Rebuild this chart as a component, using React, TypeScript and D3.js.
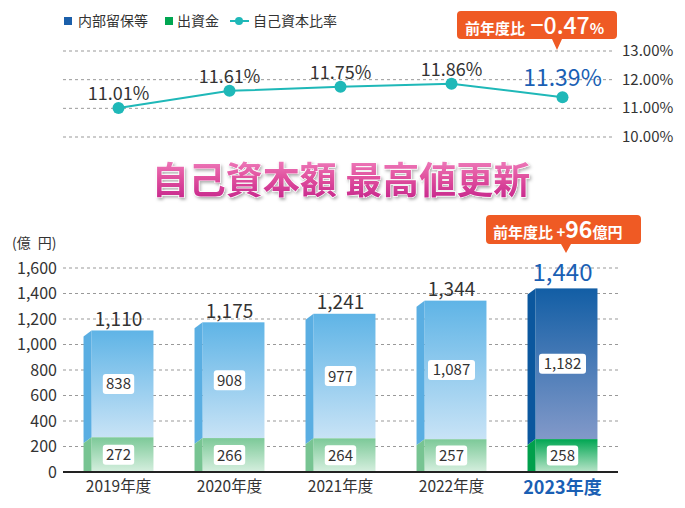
import React from "react";
import * as d3 from "d3";

const years = ["2019年度", "2020年度", "2021年度", "2022年度", "2023年度"];
const retained = [838, 908, 977, 1087, 1182];
const capital = [272, 266, 264, 257, 258];
const totals = [1110, 1175, 1241, 1344, 1440];
const ratio = [11.01, 11.61, 11.75, 11.86, 11.39];
const barTicks = [0, 200, 400, 600, 800, 1000, 1200, 1400, 1600];
const pctTicks = [10, 11, 12, 13];

const FONT = "'Noto Sans CJK JP', 'Noto Sans', sans-serif";
const TXT = "#333";
const BLUE = "#1a5fb4";
const ORANGE = "#ef5a24";
const TEAL = "#1fb8b8";

const fmt = d3.format(",");

export default function App() {
  const W = 685, H = 508;
  const x = d3.scaleBand<string>().domain(years).range([63, 618]).paddingInner(0.37).paddingOuter(0.185);
  const y = d3.scaleLinear().domain([0, 1600]).range([472, 268]);
  const yp = d3.scaleLinear().domain([10, 13]).range([137, 51]);
  const bw = x.bandwidth();
  const side = 8;
  const slant = 6;
  const cx = (i: number) => (x(years[i]) as number) + bw / 2;

  const line = d3.line<number>().x((_, i) => cx(i)).y((d) => yp(d));

  const labelBox = (text: string, xc: number, yc: number, key: string) => {
    const w = text.length * 7.8 + 8;
    return (
      <g key={key}>
        <rect x={xc - w / 2} y={yc - 10} width={w} height={20} rx={3} fill="#fff" />
        <text x={xc} y={yc + 5.5} textAnchor="middle" fontSize={15} fill={TXT} fontFamily={FONT}>{text}</text>
      </g>
    );
  };

  return (
    <svg width={W} height={H} style={{ position: "absolute", left: 0, top: 0 }} fontFamily={FONT}>
      <defs>
        <linearGradient id="gBlue" x1="0" y1="0" x2="0" y2="1">
          <stop offset="0" stopColor="#5fb4e6" />
          <stop offset="1" stopColor="#c8e3f6" />
        </linearGradient>
        <linearGradient id="gGreen" x1="0" y1="0" x2="0" y2="1">
          <stop offset="0" stopColor="#7cc998" />
          <stop offset="1" stopColor="#d6efdf" />
        </linearGradient>
        <linearGradient id="gDark" x1="0" y1="0" x2="0" y2="1">
          <stop offset="0" stopColor="#125ea5" />
          <stop offset="1" stopColor="#8299c9" />
        </linearGradient>
        <linearGradient id="gDarkGreen" x1="0" y1="0" x2="0" y2="1">
          <stop offset="0" stopColor="#00a652" />
          <stop offset="1" stopColor="#b8e4c8" />
        </linearGradient>
        <linearGradient id="gTitle" x1="0" y1="0" x2="0" y2="1">
          <stop offset="0" stopColor="#f590c8" />
          <stop offset="0.5" stopColor="#e0509e" />
          <stop offset="1" stopColor="#c01c88" />
        </linearGradient>
        <filter id="shadow" x="-10%" y="-30%" width="120%" height="160%">
          <feDropShadow dx="1.5" dy="2" stdDeviation="1.5" floodColor="#000" floodOpacity="0.3" />
        </filter>
      </defs>

      {/* Legend */}
      <rect x={64} y={17} width={8} height={8} fill="#1b5faa" />
      <text x={78} y={26} fontSize={14} fill={TXT}>内部留保等</text>
      <rect x={165} y={17} width={8} height={8} fill="#00a651" />
      <text x={177} y={26} fontSize={14} fill={TXT}>出資金</text>
      <line x1={230} x2={249} y1={21} y2={21} stroke={TEAL} strokeWidth={2} />
      <circle cx={239} cy={21} r={4} fill={TEAL} />
      <text x={253} y={26} fontSize={14} fill={TXT}>自己資本比率</text>

      {/* Line chart grid */}
      {pctTicks.map((t) => (
        <g key={"pg" + t}>
          <line x1={63} x2={613} y1={yp(t)} y2={yp(t)} stroke="#999" strokeDasharray="3,3" />
          <text x={622} y={yp(t) + 5} fontSize={15} fill={TXT}>{t.toFixed(2)}%</text>
        </g>
      ))}
      <path d={line(ratio) as string} fill="none" stroke={TEAL} strokeWidth={2} />
      {ratio.map((r, i) => (
        <g key={"pt" + i}>
          <circle cx={cx(i)} cy={yp(r)} r={6} fill={TEAL} />
          {i < 4 ? (
            <text x={cx(i)} y={yp(r) - 8} textAnchor="middle" fontSize={18} fill={TXT}>{r.toFixed(2)}%</text>
          ) : (
            <text x={cx(i)} y={yp(r) - 11} textAnchor="middle" fontSize={23} fill={BLUE}>{r.toFixed(2)}%</text>
          )}
        </g>
      ))}

      {/* Callout 1 */}
      <path d="M461,11 H613 Q617,11 617,15 V35 Q617,39 613,39 H562 L557,50 L552,39 H461 Q457,39 457,35 V15 Q457,11 461,11 Z" fill={ORANGE} />
      <text x={465} y={34} fill="#fff" fontWeight="bold">
        <tspan fontSize={15}>前年度比 </tspan>
        <tspan fontSize={23} dx={2} fontWeight="500">−0.47</tspan>
        <tspan fontSize={15}>%</tspan>
      </text>

      {/* Title */}
      <text x={341} y={194} textAnchor="middle" fontSize={37} fontWeight="bold" fill="url(#gTitle)" stroke="#fff" strokeWidth={1} paintOrder="stroke" filter="url(#shadow)">
        自己資本額 最高値更新
      </text>

      {/* Bar chart */}
      <text x={12} y={248} fontSize={14} fill={TXT}>{"(億\u2002円)"}</text>
      {barTicks.map((t) => (
        <g key={"bg" + t}>
          {t > 0 && <line x1={63} x2={618} y1={y(t)} y2={y(t)} stroke="#999" strokeDasharray="3,3" />}
          <text x={57} y={y(t) + 5.5} textAnchor="end" fontSize={16} fill={TXT}>{fmt(t)}</text>
        </g>
      ))}

      {years.map((yr, i) => {
        const x0 = x(yr) as number;
        const last = i === years.length - 1;
        const yTop = y(capital[i] + retained[i]);
        const yB = y(capital[i]);
        const y0 = y(0);
        const front = x0 + side;
        return (
          <g key={"bar" + i}>
            <rect x={front} y={yTop} width={bw - side} height={yB - yTop} fill={last ? "url(#gDark)" : "url(#gBlue)"} />
            <polygon points={`${x0},${yTop + slant} ${front},${yTop} ${front},${yB} ${x0},${yB + slant}`} fill={last ? "#0b579e" : "#5aaee2"} />
            <rect x={front} y={yB} width={bw - side} height={y0 - yB} fill={last ? "url(#gDarkGreen)" : "url(#gGreen)"} />
            <polygon points={`${x0},${yB + slant} ${front},${yB} ${front},${y0} ${x0},${y0}`} fill={last ? "#00a04c" : "#77c492"} />
            {labelBox(fmt(retained[i]), cx(i), y(capital[i] + retained[i] / 2), "lr" + i)}
            {labelBox(fmt(capital[i]), cx(i), y(capital[i] / 2), "lc" + i)}
            {last ? (
              <text x={cx(i)} y={yTop - 7} textAnchor="middle" fontSize={24} fill={BLUE}>{fmt(totals[i])}</text>
            ) : (
              <text x={cx(i)} y={yTop - 4.5} textAnchor="middle" fontSize={19} fill={TXT}>{fmt(totals[i])}</text>
            )}
            {last ? (
              <text x={cx(i)} y={494} textAnchor="middle" fontSize={18} fontWeight="bold" fill={BLUE}>{yr}</text>
            ) : (
              <text x={cx(i)} y={492} textAnchor="middle" fontSize={15.5} fill={TXT}>{yr}</text>
            )}
          </g>
        );
      })}
      <line x1={63} x2={618} y1={y(0)} y2={y(0)} stroke="#222" strokeWidth={2} />

      {/* Callout 2 */}
      <path d="M490,215 H637 Q641,215 641,219 V240 Q641,244 637,244 H571 L566,253 L561,244 H490 Q486,244 486,240 V219 Q486,215 490,215 Z" fill={ORANGE} />
      <text x={493} y={238} fill="#fff" fontWeight="bold">
        <tspan fontSize={15}>前年度比 +</tspan>
        <tspan fontSize={23}>96</tspan>
        <tspan fontSize={15}>億円</tspan>
      </text>
    </svg>
  );
}
